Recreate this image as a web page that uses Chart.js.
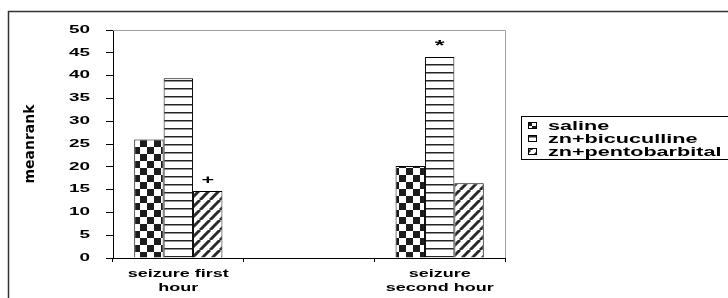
<!DOCTYPE html>
<html>
<head>
<meta charset="utf-8">
<script src="https://cdn.jsdelivr.net/npm/chart.js@4/dist/chart.umd.min.js"></script>
<style>
  html, body { margin: 0; padding: 0; background: #fff; }
  #wrap { width: 728px; height: 298px; }
</style>
</head>
<body>
<div id="wrap"><canvas id="chart" width="728" height="298"></canvas></div>
<script>
// ── data ─────────────────────────────────────────────
const categories = [['seizure first', 'hour'], '', ['seizure', 'second hour']];
const seriesNames = ['saline', 'zn+bicuculline', 'zn+pentobarbital'];
const saline = [26, null, 20.2];
const bicuculline = [39.4, null, 44.1];
const pentobarbital = [14.7, null, 16.4];
// significance marks, one row per series
const marks = [
  [null, null, null],
  [null, null, '*'],
  ['+', null, null],
];
const yMin = 0, yMax = 50, yStep = 5;
const yTitle = 'meanrank';

const canvas = document.getElementById('chart');
const ctx = canvas.getContext('2d');

// the reference text is drawn wide, so stretch flat text horizontally
function stretchText(c, sx) {
  const fill = c.fillText;
  c.fillText = function (text, x, y) {
    const m = this.getTransform();
    if (m.b !== 0 || m.c !== 0) return fill.call(this, text, x, y);
    this.save();
    this.translate(x, y);
    this.scale(sx, 1);
    fill.call(this, text, 0, 0);
    this.restore();
  };
}
stretchText(ctx, 1.8);

function makePattern(kind) {
  const t = document.createElement('canvas');
  const g = t.getContext('2d');
  if (kind === 'checker') {
    t.width = t.height = 14;
    g.fillStyle = '#fff'; g.fillRect(0, 0, 14, 14);
    g.fillStyle = '#1c1c1c';
    g.fillRect(0, 0, 7, 7); g.fillRect(7, 7, 7, 7);
  } else if (kind === 'hlines') {
    t.width = 8; t.height = 8;
    g.fillStyle = '#fff'; g.fillRect(0, 0, 8, 8);
    g.fillStyle = '#262626'; g.fillRect(0, 0, 8, 1.5);
  } else {
    t.width = t.height = 10;
    g.fillStyle = '#fff'; g.fillRect(0, 0, 10, 10);
    g.strokeStyle = '#2a2a2a'; g.lineWidth = 3;
    [-10, 0, 10].forEach(o => {
      g.beginPath(); g.moveTo(o, 10); g.lineTo(o + 10, 0); g.stroke();
    });
  }
  return ctx.createPattern(t, 'repeat');
}

const fills = [makePattern('checker'), makePattern('hlines'), makePattern('diag')];
const seriesData = [saline, bicuculline, pentobarbital];

// ── frame: outer border, grey top/right plot edges ──
const framePlugin = {
  id: 'frame',
  beforeDatasetsDraw(chart) {
    const { ctx: c, chartArea: a } = chart;
    c.save();
    c.strokeStyle = '#333'; c.lineWidth = 1.5;
    c.strokeRect(8.5, 11.5, chart.width + 10, chart.height + 10);
    c.strokeStyle = '#a0a0a0'; c.lineWidth = 1;
    c.beginPath();
    c.moveTo(a.left, a.top + 0.5); c.lineTo(a.right + 0.5, a.top + 0.5);
    c.lineTo(a.right + 0.5, a.bottom);
    c.stroke();
    c.restore();
  },
};

// ── marks above bars ──
const marksPlugin = {
  id: 'marks',
  afterDatasetsDraw(chart) {
    const c = chart.ctx;
    c.save();
    c.fillStyle = '#000';
    c.textAlign = 'center';
    c.textBaseline = 'bottom';
    marks.forEach((row, i) => {
      const meta = chart.getDatasetMeta(i);
      row.forEach((m, j) => {
        if (!m) return;
        const bar = meta.data[j];
        c.font = m === '*' ? 'bold 14px "Liberation Sans"' : 'bold 12px "Liberation Sans"';
        c.fillText(m, bar.x, bar.y - 4);
      });
    });
    c.restore();
  },
};

// ── boxed legend to the right ──
const legendPlugin = {
  id: 'boxLegend',
  afterDraw(chart) {
    const c = chart.ctx;
    const a = chart.chartArea;
    const left = a.right + 16, top = 116, rowH = 13;
    c.save();
    c.strokeStyle = '#000'; c.lineWidth = 1;
    c.strokeRect(left + 0.5, top + 0.5, 260, rowH * seriesNames.length + 4);
    c.font = 'bold 12px "Liberation Sans"';
    c.textBaseline = 'middle';
    c.textAlign = 'left';
    seriesNames.forEach((name, i) => {
      const cy = top + 10 + i * rowH;
      c.fillStyle = fills[i];
      c.fillRect(left + 7, cy - 4, 9, 7);
      c.strokeStyle = '#000';
      c.strokeRect(left + 7.5, cy - 3.5, 8, 6);
      c.fillStyle = '#000';
      c.fillText(name, left + 27, cy + 0.5);
    });
    c.restore();
  },
};

new Chart(canvas, {
  type: 'bar',
  data: {
    labels: categories,
    datasets: seriesData.map((d, i) => ({
      label: seriesNames[i],
      data: d,
      backgroundColor: fills[i],
      borderColor: '#000',
      borderWidth: 1,
      categoryPercentage: 0.675,
      barPercentage: 1,
    })),
  },
  options: {
    responsive: false,
    animation: false,
    layout: { padding: { left: 10, top: 30, right: 223, bottom: 0 } },
    plugins: {
      legend: { display: false },
      tooltip: { enabled: false },
    },
    scales: {
      x: {
        ticks: {
          color: '#000', maxRotation: 0, autoSkip: false, padding: 5,
          font: { family: 'Liberation Sans', weight: 'bold', size: 10, lineHeight: 1.4 },
        },
        grid: { offset: true, drawOnChartArea: false, tickLength: 4, color: '#000' },
        border: { color: '#000' },
        afterFit: s => { s.height = 40; },
      },
      y: {
        min: yMin, max: yMax,
        ticks: {
          stepSize: yStep, color: '#000', padding: 16,
          font: { family: 'Liberation Sans', weight: 'bold', size: 10.5 },
        },
        grid: { drawOnChartArea: false, tickLength: 7, color: '#000' },
        border: { color: '#000' },
        title: {
          display: true, text: yTitle, color: '#000',
          font: { family: 'DejaVu Sans', weight: 'bold', size: 14 },
          padding: { top: 12, bottom: 0 },
        },
        afterFit: s => { s.width = 103; },
      },
    },
  },
  plugins: [framePlugin, marksPlugin, legendPlugin],
});
</script>
</body>
</html>
